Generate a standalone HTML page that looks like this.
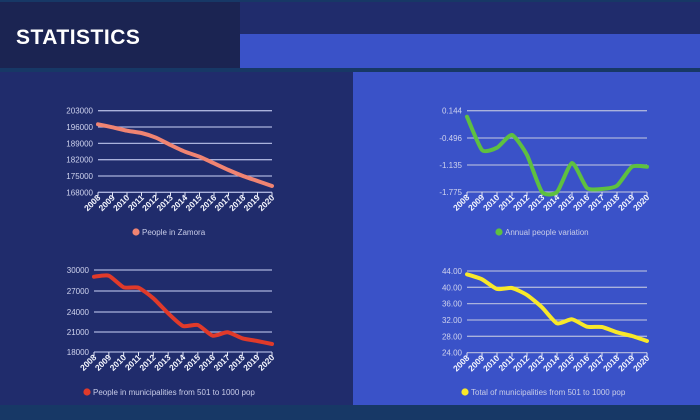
<!DOCTYPE html>
<html><head><meta charset="utf-8"><style>
html,body{margin:0;padding:0;width:700px;height:420px;overflow:hidden;background:#163468;font-family:"Liberation Sans",sans-serif}
</style></head><body>
<svg id="s" width="700" height="420" xmlns="http://www.w3.org/2000/svg" style="position:absolute;left:0;top:0">
<rect x="0" y="0" width="700" height="420" fill="#173866"/>
<rect x="0" y="2" width="240" height="66" fill="#1b2452"/>
<rect x="240" y="2" width="460" height="32" fill="#202c6c"/>
<rect x="240" y="34" width="460" height="34" fill="#3a52c8"/>
<rect x="0" y="72" width="353" height="333" fill="#202c6c"/>
<rect x="353" y="72" width="347" height="333" fill="#3a52c8"/>
<text x="16" y="44" fill="#fff" font-size="21" font-weight="bold" letter-spacing="0.5">STATISTICS</text>
<g id="g"></g>
</svg>
<script>
var g=document.getElementById('g'),h='';
var yrs=[];for(var i=2008;i<=2020;i++)yrs.push(i);
function path(x0,x1,ys){var n=ys.length,st=(x1-x0)/(n-1),p=[];for(var i=0;i<n;i++)p.push([x0+i*st,ys[i]]);
var k=10;var d='M'+p[0][0]+','+p[0][1];for(var i=0;i<n-1;i++){var a=p[i-1]||p[i],b=p[i],c=p[i+1],e=p[i+2]||c;
d+=' C'+(b[0]+(c[0]-a[0])/k)+','+(b[1]+(c[1]-a[1])/k)+' '+(c[0]-(e[0]-b[0])/k)+','+(c[1]-(e[1]-b[1])/k)+' '+c[0]+','+c[1];}return d;}
function chart(x0,x1,labels,ly,col,ys,leg,lx,lyy){
for(var i=0;i<labels.length;i++){h+='<line x1="'+x0+'" x2="'+x1+'" y1="'+ly[i]+'" y2="'+ly[i]+'" stroke="#aab2dc" stroke-width="1.3"/>';
h+='<text x="'+(x0-5)+'" y="'+(ly[i]+3)+'" fill="#cfd3ee" font-size="8" text-anchor="end">'+labels[i]+'</text>';}
var yb=ly[ly.length-1],st=(x1-x0)/12;
for(var i=0;i<13;i++){var x=x0+i*st;h+='<line x1="'+x+'" x2="'+x+'" y1="'+yb+'" y2="'+(yb+4)+'" stroke="#e0e4f6" stroke-width="1"/>';
h+='<text transform="translate('+(x+3)+','+(yb+6)+') rotate(-45)" fill="#f2f4fc" font-size="8.5" font-weight="bold" text-anchor="end">'+yrs[i]+'</text>';}
h+='<path d="'+path(x0,x1,ys)+'" fill="none" stroke="'+col+'" stroke-width="4" stroke-linecap="round" stroke-linejoin="round"/>';
h+='<circle cx="'+lx+'" cy="'+lyy+'" r="3.6" fill="'+col+'"/><text x="'+(lx+6)+'" y="'+(lyy+3)+'" fill="#c8cce8" font-size="8">'+leg+'</text>';}
chart(98,272,['203000','196000','189000','182000','175000','168000'],[110.7,127,143.4,159.7,176,192.3],'#f08472',
[124.3,127.3,130.7,133,137.7,145,151.7,156.7,163.3,170,176,181,186],'People in Zamora',136,232);
chart(467,647,['0.144','-0.496','-1.135','-1.775'],[110.7,138,165,192],'#5ec040',
[116.7,150,147.7,135,155,192,192,163,188,189,185.7,166.7,166.7],'Annual people variation',499,232);
chart(94,272,['30000','27000','24000','21000','18000'],[270,291,312,332,352],'#e03a2a',
[276.7,275.7,287.3,287.7,298.3,313.3,326,325,335.7,332.3,338.3,341,344],'People in municipalities from 501 to 1000 pop',87,392);
chart(467,647,['44.00','40.00','36.00','32.00','28.00','24.00'],[271,287.3,303.6,320,336.3,352.6],'#f8e82a',
[274.3,279.3,289,288,295,307.3,323.3,319.3,326.7,327,332.3,336,341],'Total of municipalities from 501 to 1000 pop',465,392);
g.innerHTML=h;
</script>
</body></html>
